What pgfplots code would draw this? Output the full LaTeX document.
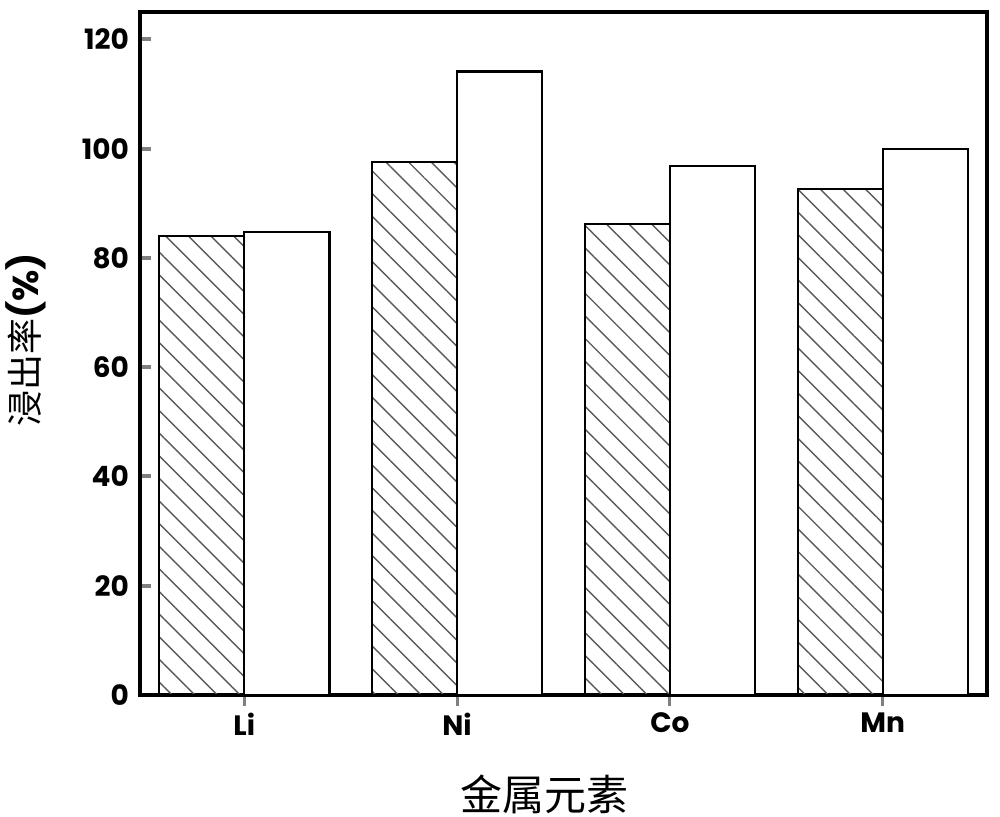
\documentclass[border=0pt]{standalone}
\usepackage{pgfplots}
\pgfplotsset{compat=1.18}
\usetikzlibrary{patterns.meta}
\usepackage{fontspec}
\setmainfont{Poppins}
\newfontfamily\cjk{Noto Sans CJK SC}

\begin{document}
\begin{tikzpicture}
\path[use as bounding box] (-70pt,-61pt) rectangle (430pt,347.5pt);
\begin{axis}[
    at={(0,0)}, anchor=south west,
    width=423.5pt, height=341.5pt,
    scale only axis,
    axis line style={line width=2pt},
    xmin=-0.49, xmax=3.49,
    ymin=0, ymax=125,
    xtick={0,1,2,3},
    xticklabels={Li,Ni,Co,Mn},
    ytick={0,20,...,120},
    tick align=inside,
    xtick pos=bottom, ytick pos=left,
    major tick length=5.5pt,
    x tick style={line width=1.5pt},
    y tick style={line width=2pt},
    tick label style={font=\bfseries\fontsize{14pt}{16pt}\selectfont},
    /pgf/number format/assume math mode=true,
    yticklabel style={xshift=-2pt},
    xticklabel style={yshift=0pt},
    ylabel={{\cjk 浸出率}\bfseries(\%)},
    ylabel style={at={(axis description cs:-0.135,0.52)}, anchor=center,
      font=\fontsize{18pt}{20pt}\selectfont},
    xlabel={\cjk 金属元素},
    xlabel style={at={(axis description cs:0.478,-0.146)}, anchor=center,
      font=\fontsize{21pt}{23pt}\selectfont},
    ybar, bar width=0.4,
  ]
\addplot[bar shift=-0.2, draw=black, line width=1.1pt,
  pattern={Lines[angle=-45,distance=8pt,line width=0.7pt]},
  pattern color=black!65]
  coordinates {(0,84.0) (1,97.6) (2,86.2) (3,92.6)};
\addplot[bar shift=0.2, draw=black, line width=1.1pt, fill=white]
  coordinates {(0,84.8) (1,114.1) (2,96.8) (3,99.9)};
\end{axis}
\end{tikzpicture}
\end{document}
